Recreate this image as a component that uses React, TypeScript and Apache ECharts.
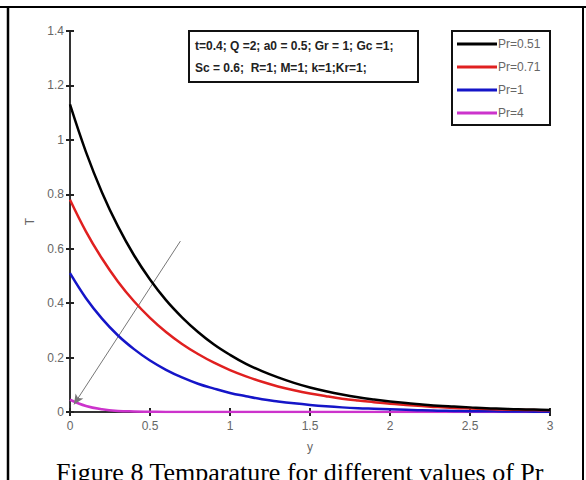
import React, { useEffect, useRef } from "react";
import * as echarts from "echarts";

const xValues = [0, 0.1, 0.2, 0.3, 0.4, 0.5, 0.6, 0.7, 0.8, 0.9, 1.0, 1.1, 1.2, 1.3, 1.4, 1.5, 1.6, 1.7, 1.8, 1.9, 2.0, 2.1, 2.2, 2.3, 2.4, 2.5, 2.6, 2.7, 2.8, 2.9, 3.0];
const pr051 = [1.13, 0.955, 0.807, 0.682, 0.576, 0.487, 0.411, 0.348, 0.294, 0.248, 0.21, 0.177, 0.15, 0.127, 0.107, 0.09, 0.076, 0.064, 0.054, 0.046, 0.039, 0.033, 0.028, 0.023, 0.02, 0.017, 0.014, 0.012, 0.01, 0.009, 0.007];
const pr071 = [0.78, 0.663, 0.564, 0.479, 0.407, 0.346, 0.294, 0.25, 0.213, 0.181, 0.154, 0.131, 0.111, 0.094, 0.08, 0.068, 0.058, 0.049, 0.042, 0.036, 0.03, 0.026, 0.022, 0.018, 0.015, 0.013, 0.011, 0.009, 0.008, 0.007, 0.006];
const pr1 = [0.51, 0.418, 0.343, 0.281, 0.231, 0.189, 0.155, 0.127, 0.104, 0.086, 0.07, 0.058, 0.047, 0.039, 0.032, 0.026, 0.021, 0.017, 0.014, 0.012, 0.01, 0.008, 0.006, 0.005, 0.004, 0.003, 0.003, 0.002, 0.002, 0.001, 0.001];
const pr4 = [0.045, 0.022, 0.01, 0.004, 0.002, 0.001, 0, 0, 0, 0, 0, 0, 0, 0, 0, 0, 0, 0, 0, 0, 0, 0, 0, 0, 0, 0, 0, 0, 0, 0, 0];

const seriesNames = ["Pr=0.51", "Pr=0.71", "Pr=1", "Pr=4"];
const seriesColors = ["#000000", "#e02020", "#1515c8", "#cc33cc"];
const seriesValues = [pr051, pr071, pr1, pr4];

const arrowStart = [0.69, 0.628];
const arrowEnd = [0.025, 0.028];

const xTicks = { min: 0, max: 3, interval: 0.5 };
const yTicks = { min: 0, max: 1.4, interval: 0.2 };

const paramLine1 = "t=0.4; Q =2; a0 = 0.5; Gr = 1; Gc =1;";
const paramLine2 = "Sc = 0.6;  R=1; M=1; k=1;Kr=1;";
const caption = "Figure 8 Temparature for different values of Pr";
const xName = "y";
const yName = "T";

const narrow = "'Liberation Sans Narrow', 'Arial Narrow', 'Liberation Sans', sans-serif";

export default function App() {
  const ref = useRef<HTMLDivElement>(null);
  useEffect(() => {
    if (!ref.current) return;
    const chart = echarts.init(ref.current, undefined, { renderer: "svg" });
    const axisLine = { show: true, lineStyle: { color: "#333", width: 2 } };
    const tick = { show: true, inside: true, length: 4, lineStyle: { color: "#222", width: 2 } };
    const label = { color: "#666", fontSize: 12, fontFamily: narrow };
    const series: any[] = seriesNames.map((name, s) => ({
      name,
      type: "line",
      data: xValues.map((x, i) => [x, seriesValues[s][i]]),
      smooth: 0.4,
      showSymbol: false,
      symbol: "none",
      lineStyle: { color: seriesColors[s], width: 2.5 },
      itemStyle: { color: seriesColors[s] },
      z: 7 - s,
    }));
    series[0].markLine = {
      silent: true,
      symbol: ["none", "arrow"],
      symbolSize: [7, 10],
      label: { show: false },
      lineStyle: { color: "#777", width: 1, type: "solid" },
      data: [[{ coord: arrowStart }, { coord: arrowEnd }]],
    };
    chart.setOption({
      animation: false,
      backgroundColor: "#fff",
      grid: { left: 70, top: 31, width: 480, height: 381, show: false },
      legend: {
        show: true,
        orient: "vertical",
        left: 457,
        top: 37,
        itemWidth: 40,
        itemHeight: 3,
        itemGap: 9,
        icon: "rect",
        padding: 0,
        textStyle: { color: "#666", fontSize: 12, fontFamily: narrow, padding: [0, 0, 0, -4], lineHeight: 14 },
        data: seriesNames,
      },
      xAxis: [
        {
          type: "value",
          ...xTicks,
          name: xName,
          nameLocation: "middle",
          nameGap: 29,
          nameTextStyle: { color: "#666", fontSize: 12, fontFamily: narrow },
          axisLine,
          axisTick: tick,
          axisLabel: { ...label, margin: 8 },
          splitLine: { show: false },
        },
        {
          type: "value",
          position: "top",
          ...xTicks,
          axisLine,
          axisTick: tick,
          axisLabel: { show: false },
          splitLine: { show: false },
        },
      ],
      yAxis: [
        {
          type: "value",
          ...yTicks,
          name: yName,
          nameLocation: "middle",
          nameGap: 32,
          nameTextStyle: { color: "#666", fontSize: 12, fontFamily: narrow },
          axisLine,
          axisTick: tick,
          axisLabel: { ...label, margin: 6 },
          splitLine: { show: false },
        },
        {
          type: "value",
          position: "right",
          ...yTicks,
          axisLine,
          axisTick: tick,
          axisLabel: { show: false },
          splitLine: { show: false },
        },
      ],
      series,
      graphic: [
        { type: "line", shape: { x1: 0, y1: 7, x2: 586, y2: 7 }, style: { stroke: "#000", lineWidth: 2 } },
        { type: "line", shape: { x1: 8, y1: 7, x2: 8, y2: 480 }, style: { stroke: "#000", lineWidth: 2.5 } },
        { type: "line", shape: { x1: 583, y1: 7, x2: 583, y2: 480 }, style: { stroke: "#000", lineWidth: 2 } },
        {
          type: "rect",
          shape: { x: 189, y: 31, width: 229, height: 51 },
          style: { fill: "#fff", stroke: "#111", lineWidth: 2 },
          z: 100,
        },
        {
          type: "text",
          x: 195,
          y: 46,
          style: { text: paramLine1, fill: "#222", font: `bold 12px ${narrow}`, verticalAlign: "middle" },
          z: 101,
        },
        {
          type: "text",
          x: 195,
          y: 68,
          style: { text: paramLine2, fill: "#222", font: `bold 12px ${narrow}`, verticalAlign: "middle" },
          z: 101,
        },
        {
          type: "rect",
          shape: { x: 452, y: 31, width: 98, height: 94 },
          style: { fill: "#fff", stroke: "#111", lineWidth: 2 },
          z: -1,
        },
        {
          type: "text",
          x: 56,
          y: 459,
          style: { text: caption, fill: "#000", font: "26px 'Liberation Serif', 'Times New Roman', serif", verticalAlign: "top" },
        },
      ],
    });
    return () => chart.dispose();
  }, []);
  return <div ref={ref} style={{ position: "fixed", left: 0, top: 0, width: 586, height: 480, background: "#fff" }} />;
}
